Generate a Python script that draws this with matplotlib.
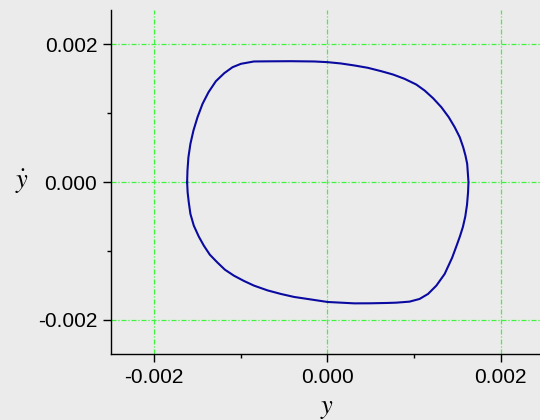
import matplotlib
matplotlib.use("Agg")
import matplotlib.pyplot as plt
from matplotlib.ticker import MultipleLocator, FormatStrFormatter

# Limit cycle trace: y (horizontal) and y-dot (vertical)
y_vals = [-0.001621, -0.001617, -0.001606, -0.001583, -0.001548, -0.001501, -0.001443,
          -0.001374, -0.001289, -0.001192, -0.001096, -0.000999, -0.000849, -0.000693,
          -0.000423, -0.000153, 0.000002, 0.000155, 0.000311, 0.000466, 0.000620,
          0.000756, 0.000890, 0.001026, 0.001122, 0.001220, 0.001316, 0.001401,
          0.001470, 0.001528, 0.001568, 0.001594, 0.001614, 0.001629,
          0.001624, 0.001612, 0.001592, 0.001565, 0.001530, 0.001490, 0.001440,
          0.001354, 0.001258, 0.001162, 0.001064, 0.000948, 0.000794, 0.000698,
          0.000500, 0.000311, 0.000002, -0.000230, -0.000385, -0.000539, -0.000693,
          -0.000849, -0.000965, -0.001081, -0.001185, -0.001273, -0.001359, -0.001428,
          -0.001486, -0.001544, -0.001583, -0.001602, -0.001615, -0.001621]
ydot_vals = [0.000000, 0.000167, 0.000361, 0.000556, 0.000749, 0.000943, 0.001137,
             0.001306, 0.001466, 0.001583, 0.001670, 0.001719, 0.001753, 0.001755,
             0.001757, 0.001753, 0.001743, 0.001724, 0.001695, 0.001661, 0.001612,
             0.001564, 0.001501, 0.001418, 0.001331, 0.001219, 0.001088, 0.000943,
             0.000797, 0.000652, 0.000506, 0.000385, 0.000265, 0.000000,
             -0.000150, -0.000330, -0.000500, -0.000650, -0.000790, -0.000930, -0.001100,
             -0.001335, -0.001505, -0.001626, -0.001699, -0.001738, -0.001753, -0.001757,
             -0.001762, -0.001763, -0.001743, -0.001699, -0.001670, -0.001626, -0.001574,
             -0.001505, -0.001437, -0.001360, -0.001273, -0.001167, -0.001055, -0.000924,
             -0.000793, -0.000633, -0.000463, -0.000294, -0.000150, 0.000000]

x_ticks = [-0.002, 0.000, 0.002]
y_ticks = [-0.002, 0.000, 0.002]

bg = '#ecebec'
plt.rcParams['mathtext.fontset'] = 'stix'
fig = plt.figure(figsize=(5.4, 4.2), dpi=100, facecolor=bg)
ax = fig.add_axes([0.2056, 0.157, 0.80, 0.819], facecolor=bg)

ax.plot(y_vals, ydot_vals, color='#0a0aa0', lw=1.5, solid_joinstyle='round')

ax.set_xlim(-0.0025, 0.00249)
ax.set_ylim(-0.0025, 0.0025)
ax.set_xticks(x_ticks)
ax.set_yticks(y_ticks)
ax.xaxis.set_minor_locator(MultipleLocator(0.001))
ax.yaxis.set_minor_locator(MultipleLocator(0.001))
ax.xaxis.set_major_formatter(FormatStrFormatter('%.3f'))
ax.yaxis.set_major_formatter(FormatStrFormatter('%.3f'))

for s in ['top', 'right']:
    ax.spines[s].set_visible(False)
for s in ['left', 'bottom']:
    ax.spines[s].set_linewidth(1.0)
    ax.spines[s].set_color('black')

ax.tick_params(which='major', direction='out', length=6, width=1.0, labelsize=15,
               pad=4, colors='black')
ax.tick_params(which='minor', direction='out', length=3, width=1.0)
for lbl in ax.get_xticklabels() + ax.get_yticklabels():
    lbl.set_family('Liberation Sans')

ax.grid(True, which='major', color='#3cf53c', linestyle=(0, (4, 1.5, 1, 1.5)),
        linewidth=0.9)
ax.set_axisbelow(True)

fig.text(0.041, 0.567, r'$\dot{y}$', fontsize=19, ha='center', va='center')
fig.text(0.605, 0.028, r'$y$', fontsize=19, ha='center', va='center')

fig.savefig('out.png', dpi=100, facecolor=bg)
